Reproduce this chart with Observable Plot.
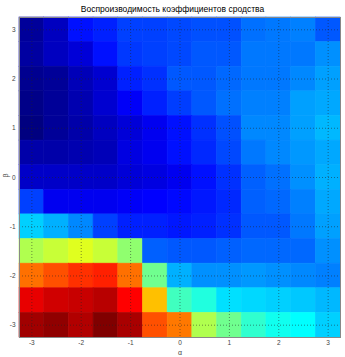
<!DOCTYPE html>
<html>
<head>
<meta charset="utf-8">
<script src="https://cdn.jsdelivr.net/npm/d3@7"></script>
<script src="https://cdn.jsdelivr.net/npm/@observablehq/plot@0.6"></script>
<style>
  html, body { margin: 0; padding: 0; background: #fff; }
  #title { width: 345px; height: 14px; padding-top: 2px; line-height: 14px; text-align: center;
           font-family: "Liberation Sans", Arial, sans-serif; font-size: 8.5px; color: #000; }
</style>
</head>
<body>
<div id="title">Воспроизводимость коэффициентов сродства</div>
<div id="chart"></div>
<script>
const titleText = "Воспроизводимость коэффициентов сродства";
const alphas = [-3, -2.5, -2, -1.5, -1, -0.5, 0, 0.5, 1, 1.5, 2, 2.5, 3];
const betas = [3, 2.5, 2, 1.5, 1, 0.5, 0, -0.5, -1, -1.5, -2, -2.5, -3];
const tickValues = [-3, -2, -1, 0, 1, 2, 3];
const xLabel = "α";
const yLabel = "β";
// rows: beta from 3 (top) to -3 (bottom); columns: alpha from -3 to 3
const values = [
  [0.026, 0.063, 0.141, 0.156, 0.188, 0.188, 0.196, 0.203, 0.203, 0.235, 0.243, 0.250, 0.211],
  [0.032, 0.063, 0.087, 0.141, 0.180, 0.188, 0.196, 0.211, 0.211, 0.243, 0.243, 0.243, 0.266],
  [0.016, 0.024, 0.055, 0.079, 0.156, 0.172, 0.211, 0.211, 0.227, 0.243, 0.243, 0.258, 0.282],
  [0.008, 0.024, 0.047, 0.079, 0.118, 0.156, 0.185, 0.211, 0.235, 0.250, 0.250, 0.282, 0.290],
  [0.000, 0.024, 0.040, 0.063, 0.087, 0.110, 0.141, 0.172, 0.203, 0.258, 0.258, 0.282, 0.305],
  [0.040, 0.040, 0.047, 0.055, 0.095, 0.110, 0.141, 0.164, 0.196, 0.243, 0.258, 0.274, 0.290],
  [0.071, 0.071, 0.071, 0.071, 0.087, 0.095, 0.110, 0.141, 0.172, 0.219, 0.235, 0.266, 0.298],
  [0.188, 0.110, 0.110, 0.110, 0.118, 0.125, 0.133, 0.148, 0.164, 0.219, 0.227, 0.250, 0.290],
  [0.329, 0.298, 0.258, 0.188, 0.156, 0.156, 0.148, 0.156, 0.172, 0.211, 0.211, 0.243, 0.282],
  [0.548, 0.571, 0.595, 0.571, 0.516, 0.219, 0.211, 0.211, 0.219, 0.227, 0.227, 0.227, 0.266],
  [0.765, 0.797, 0.828, 0.844, 0.765, 0.485, 0.298, 0.266, 0.266, 0.274, 0.266, 0.258, 0.250],
  [0.898, 0.921, 0.929, 0.945, 0.875, 0.687, 0.438, 0.406, 0.345, 0.337, 0.329, 0.321, 0.305],
  [0.968, 0.984, 0.952, 1.000, 0.960, 0.797, 0.757, 0.548, 0.485, 0.422, 0.391, 0.375, 0.329]
];

const table = [];
betas.forEach((b, i) => alphas.forEach((a, j) => table.push({a, b, v: values[i][j]})));
const hx = (alphas[1] - alphas[0]) / 2;
const hy = Math.abs(betas[1] - betas[0]) / 2;

const fmt = d => String(d);
const plot = Plot.plot({
  width: 345,
  height: 341,
  marginTop: 1,
  marginLeft: 19,
  marginRight: 5,
  marginBottom: 20,
  style: { fontFamily: "Liberation Sans, Arial, sans-serif", overflow: "visible", background: "#fff" },
  x: { domain: [alphas[0] - hx, alphas[alphas.length - 1] + hx] },
  y: { domain: [betas[betas.length - 1] - hy, betas[0] + hy] },
  color: {
    type: "linear",
    domain: [0, 0.125, 0.375, 0.625, 0.875, 1],
    range: ["#000080", "#0000ff", "#00ffff", "#ffff00", "#ff0000", "#800000"],
    interpolate: "rgb"
  },
  marks: [
    Plot.rect(table, {
      x1: d => d.a - hx, x2: d => d.a + hx,
      y1: d => d.b - hy, y2: d => d.b + hy,
      fill: "v", stroke: "v", strokeWidth: 0.6
    }),
    Plot.gridX(tickValues, { stroke: "#222", strokeOpacity: 0.5, strokeDasharray: "1,2" }),
    Plot.gridY(tickValues, { stroke: "#222", strokeOpacity: 0.5, strokeDasharray: "1,2" }),
    Plot.axisX(tickValues, { tickSize: 0, tickPadding: 3, tickFormat: fmt, fontSize: 6.5, fill: "#444", label: null }),
    Plot.axisY(tickValues, { tickSize: 0, tickPadding: 4, tickFormat: fmt, fontSize: 6.5, fill: "#444", label: null }),
    Plot.frame({ stroke: "#888" }),
    Plot.text([xLabel], { text: d => d, frameAnchor: "bottom", lineAnchor: "middle", dy: 15, fontSize: 7, fill: "#444" }),
    Plot.text([yLabel], { text: d => d, frameAnchor: "left", dx: -14, rotate: -90, fontSize: 7, fill: "#444" })
  ]
});
document.getElementById("chart").appendChild(plot);
</script>
</body>
</html>
